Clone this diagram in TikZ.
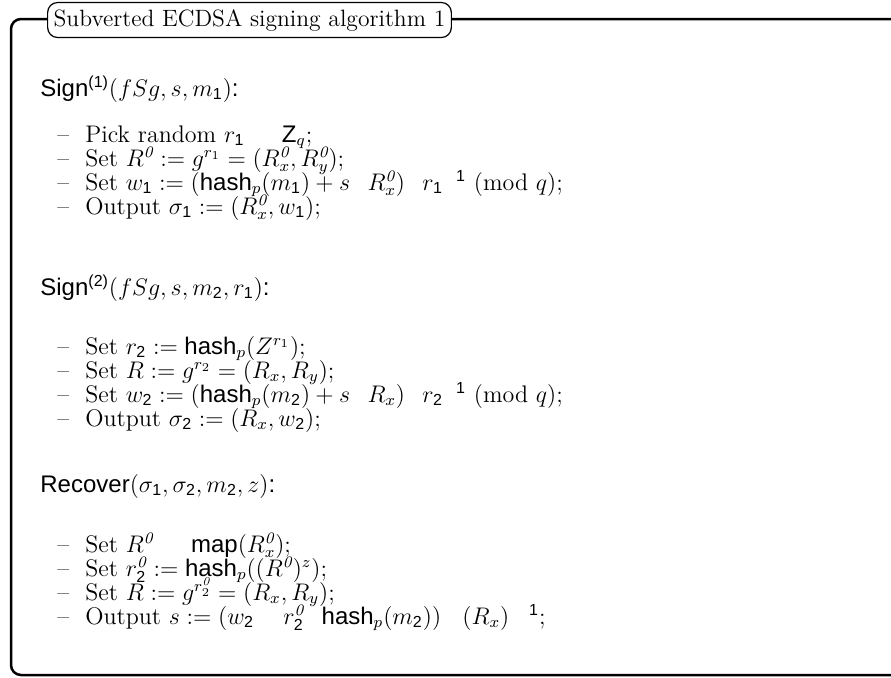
\documentclass[tikz,border=0pt]{standalone}
\usepackage{fontspec}
\setsansfont{Liberation Sans}
\usepackage{amsmath}
\newcommand{\sfn}[1]{\textsf{#1}}
\newcommand{\pr}{\mathit{0}}
\newcommand{\la}{\mathrel{\phantom{\leftarrow}}}
\newcommand{\cd}{\mathbin{\phantom{\cdot}}}
\newcommand{\mn}{\mathbin{\phantom{-}}}
\newcommand{\inv}{^{\phantom{-}\sfn{1}}}
\tikzset{
  line/.style={anchor=base west, inner sep=0pt, font=\fontsize{12}{14}\selectfont},
  frame/.style={line width=1.25pt, rounded corners=5pt},
  titlebox/.style={draw, line width=0.6pt, rounded corners=5pt, fill=white, inner xsep=3pt, minimum height=17pt, font=\fontsize{11.8}{14}\selectfont}
}
\newcommand{\itm}{\makebox[14pt][l]{--}}
\begin{document}
\begin{tikzpicture}[x=1pt,y=1pt]
\useasboundingbox (0,0) rectangle (445.5,-338.5);
\clip (0,0) rectangle (445.5,-338.5);
\draw[frame] (460,-9.5) -- (5.5,-9.5) -- (5.5,-337.5) -- (460,-337.5);
\node[titlebox] (title) at (124.75,-10) {Subverted ECDSA signing algorithm 1};
% group 1
\node[line] (s1) at (20,-48) {\sfn{Sign}$^{\sfn{(1)}}(fSg,s,m_{\sfn{1}})$\sfn{:}};
\node[line] (a1) at (28.5,-71) {\itm Pick random $r_{\sfn{1}} \la \text{\sffamily Z}_q$;};
\node[line] (a2) at (28.5,-83) {\itm Set $R^{\pr}:=g^{r_1}=(R^{\pr}_x,R^{\pr}_y)$;};
\node[line] (a3) at (28.5,-95) {\itm Set $w_{\sfn{1}}:=(\text{\sffamily hash}_p(m_{\sfn{1}})+s \cd R^{\pr}_x) \cd r_{\sfn{1}}{}\inv$ (mod $q$);};
\node[line] (a4) at (28.5,-107) {\itm Output $\sigma_{\sfn{1}}:=(R^{\pr}_x,w_{\sfn{1}})$;};
% group 2
\node[line] (s2) at (20,-147.5) {\sfn{Sign}$^{\sfn{(2)}}(fSg,s,m_{\sfn{2}},r_{\sfn{1}})$\sfn{:}};
\node[line] (b1) at (28.5,-177) {\itm Set $r_{\sfn{2}}:=\text{\sffamily hash}_p(Z^{r_1})$;};
\node[line] (b2) at (28.5,-189) {\itm Set $R:=g^{r_2}=(R_x,R_y)$;};
\node[line] (b3) at (28.5,-201) {\itm Set $w_{\sfn{2}}:=(\text{\sffamily hash}_p(m_{\sfn{2}})+s \cd R_x) \cd r_{\sfn{2}}{}\inv$ (mod $q$);};
\node[line] (b4) at (28.5,-213) {\itm Output $\sigma_{\sfn{2}}:=(R_x,w_{\sfn{2}})$;};
% group 3
\node[line] (s3) at (20,-246) {\sfn{Recover}$(\sigma_{\sfn{1}},\sigma_{\sfn{2}},m_{\sfn{2}},z)$\sfn{:}};
\node[line] (c1) at (28.5,-276) {\itm Set $R^{\pr} \la \text{\sffamily map}(R^{\pr}_x)$;};
\node[line] (c2) at (28.5,-288) {\itm Set $r^{\pr}_{\sfn{2}}:=\text{\sffamily hash}_p((R^{\pr})^z)$;};
\node[line] (c3) at (28.5,-300) {\itm Set $R:=g^{r^{\pr}_2}=(R_x,R_y)$;};
\node[line] (c4) at (28.5,-312) {\itm Output $s:=(w_{\sfn{2}} \mn r^{\pr}_{\sfn{2}} \cd \text{\sffamily hash}_p(m_{\sfn{2}}))\, \cd (R_x)\;{}\inv$;};
\end{tikzpicture}
\end{document}
